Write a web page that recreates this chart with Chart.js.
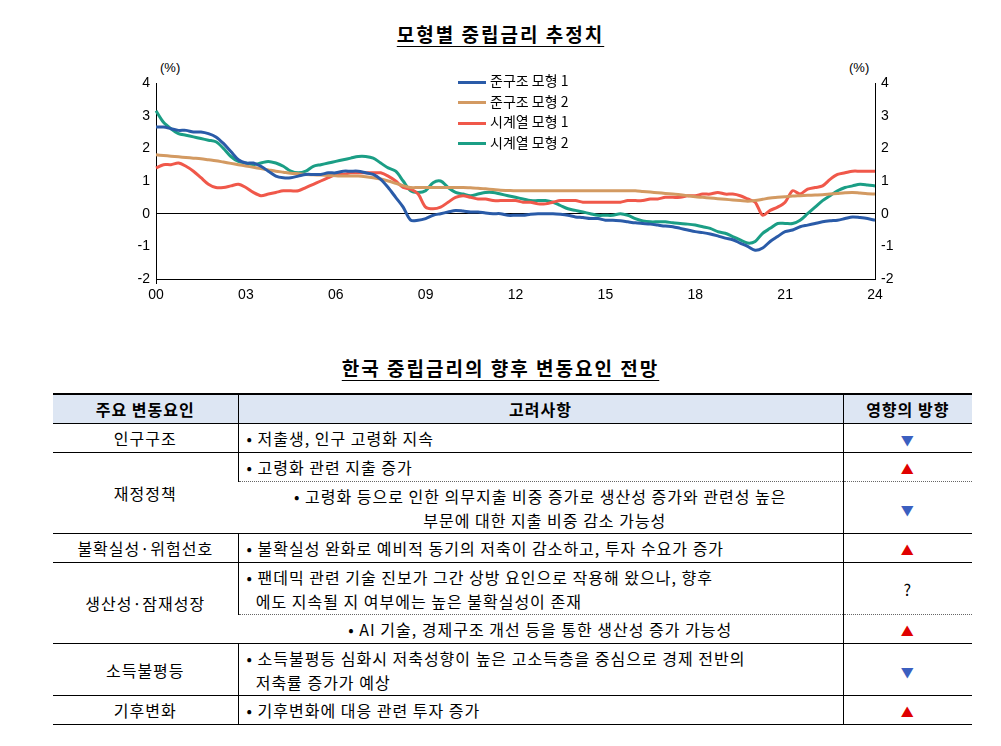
<!DOCTYPE html>
<html><head><meta charset="utf-8">
<script src="https://cdn.jsdelivr.net/npm/chart.js@4"></script>
<style>
body{margin:0;background:#fff;font-family:"Noto Sans CJK KR",sans-serif;color:#000;width:1001px;height:746px;position:relative;overflow:hidden}
.ttl{position:absolute;left:0;width:1001px;text-align:center;font-size:19px;font-weight:bold;text-decoration:underline;text-underline-offset:4px;letter-spacing:2px}
#wrap{position:absolute;left:110px;top:60px;width:810px;height:255px}
.pct{position:absolute;top:60px;font-family:"Liberation Sans";font-size:13px}
#leg{position:absolute;left:458px;top:70px;font-size:14px;line-height:20.5px}
#leg span{display:inline-block;width:28px;height:3px;vertical-align:middle;margin-right:4px}
table{position:absolute;left:53px;top:393px;width:919px;border-collapse:collapse;font-size:16px;table-layout:fixed;letter-spacing:1px}
td,th{padding:0 8px;border-bottom:1px solid #000;border-left:1px solid #000;white-space:nowrap}
th{background:#dde6f3;font-weight:bold;height:28px;border-top:2px solid #000;border-bottom:1px solid #000;text-align:center}
td:first-child,th:first-child{border-left:none;text-align:center}
td.d{text-align:center}
td.dot{border-bottom:1px dotted #666}
.u{color:#e00000;font-size:13px}.n{color:#3b5fc0;font-size:13px}
</style></head><body>
<div class="ttl" style="top:20px">모형별 중립금리 추정치</div>
<div class="pct" style="left:160px">(%)</div>
<div class="pct" style="left:849px">(%)</div>
<div id="wrap"><canvas id="c"></canvas></div>
<div id="leg"></div>
<div class="ttl" style="top:354px">한국 중립금리의 향후 변동요인 전망</div>
<table id="tb"></table>
<script>
// 분기별 (2000Q1 ~ 2024Q1)
const years = ["00","01","02","03","04","05","06","07","08","09","10","11","12","13","14","15","16","17","18","19","20","21","22","23","24"];
const quarters = [];
years.forEach((y, i) => { const n = i < years.length - 1 ? 4 : 1; for (let q = 0; q < n; q++) quarters.push(q === 0 ? y : ""); });

const struct1 = [2.65,2.65,2.6,2.55, 2.55,2.5,2.5,2.45, 2.35,2.15,1.9,1.65, 1.55,1.55,1.45,1.3, 1.15,1.1,1.1,1.15, 1.2,1.2,1.2,1.25, 1.25,1.3,1.3,1.3,
  1.25,1.2,1.05,0.8, 0.5,0.2,-0.2,-0.2, -0.15,-0.05,0.0,0.05, 0.1,0.08,0.05,0.05, 0.02,0.0,0.0,-0.05, -0.05,-0.05,-0.02,0.0, 0.0,0.0,-0.02,-0.05,
  -0.1,-0.12,-0.15,-0.15, -0.2,-0.2,-0.22,-0.25, -0.28,-0.3,-0.32,-0.35, -0.38,-0.4,-0.45,-0.5, -0.55,-0.58,-0.62,-0.68, -0.75,-0.8,-0.9,-1.0,
  -1.12,-1.05,-0.85,-0.7, -0.55,-0.5,-0.4,-0.35, -0.3,-0.25,-0.22,-0.2, -0.15,-0.1,-0.12,-0.15, -0.2];
const struct2 = [1.8,1.78,1.76,1.74, 1.72,1.7,1.68,1.65, 1.62,1.58,1.54,1.5, 1.46,1.42,1.38,1.34, 1.3,1.27,1.24,1.22, 1.2,1.19,1.18,1.17, 1.16,1.15,1.15,1.15,
  1.13,1.1,1.06,1.0, 0.93,0.86,0.8,0.8, 0.8,0.8,0.8,0.8, 0.8,0.8,0.79,0.78, 0.76,0.74,0.72,0.71, 0.7,0.7,0.7,0.7, 0.7,0.7,0.7,0.7,
  0.7,0.7,0.7,0.7, 0.7,0.7,0.7,0.7, 0.7,0.68,0.66,0.64, 0.62,0.6,0.58,0.55, 0.52,0.5,0.48,0.46, 0.44,0.42,0.4,0.38,
  0.4,0.44,0.48,0.5, 0.52,0.54,0.55,0.56, 0.57,0.58,0.6,0.62, 0.64,0.65,0.63,0.61, 0.6];
const series1 = [1.4,1.5,1.5,1.55, 1.45,1.3,1.1,0.9, 0.8,0.8,0.85,0.9, 0.8,0.65,0.55,0.6, 0.65,0.7,0.7,0.7, 0.8,0.9,1.0,1.1, 1.2,1.2,1.25,1.25,
  1.25,1.25,1.25,1.15, 1.0,0.8,0.75,0.6, 0.2,0.15,0.2,0.35, 0.5,0.55,0.5,0.45, 0.45,0.4,0.4,0.4, 0.4,0.35,0.35,0.3, 0.3,0.35,0.4,0.4,
  0.4,0.35,0.35,0.35, 0.35,0.35,0.35,0.4, 0.4,0.4,0.45,0.45, 0.5,0.5,0.5,0.55, 0.55,0.6,0.6,0.65, 0.6,0.6,0.55,0.45,
  0.35,-0.05,0.1,0.2, 0.35,0.7,0.6,0.75, 0.8,0.85,1.05,1.2, 1.25,1.3,1.3,1.3, 1.3];
const series2 = [3.15,2.8,2.6,2.45, 2.4,2.35,2.3,2.25, 2.2,2.0,1.75,1.6, 1.55,1.5,1.55,1.6, 1.55,1.45,1.3,1.25, 1.3,1.45,1.5,1.55, 1.6,1.65,1.7,1.75,
  1.75,1.7,1.55,1.4, 1.3,1.0,0.7,0.65, 0.7,0.95,1.0,0.8, 0.65,0.6,0.55,0.6, 0.65,0.65,0.6,0.55, 0.5,0.45,0.4,0.4, 0.4,0.35,0.25,0.15,
  0.1,0.05,0.0,-0.05, -0.05,-0.05,0.0,-0.05, -0.15,-0.22,-0.25,-0.25, -0.25,-0.28,-0.3,-0.32, -0.35,-0.4,-0.45,-0.55, -0.6,-0.7,-0.8,-0.9,
  -0.85,-0.6,-0.45,-0.3, -0.3,-0.3,-0.2,0.0, 0.2,0.4,0.55,0.7, 0.8,0.85,0.9,0.88, 0.85];

const names = ["준구조 모형 1","준구조 모형 2","시계열 모형 1","시계열 모형 2"];
const colors = ["#2a5ba8","#d39a62","#f0584a","#1b9e85"];
const yTicks = [4,3,2,1,0,-1,-2];

// 범례
document.getElementById("leg").innerHTML = names.map((n, i) => `<div><span style="background:${colors[i]}"></span>${n}</div>`).join("");

const tickFont = { family: "Liberation Sans", size: 14 };
const yAxis = (pos, w) => ({
  position: pos, min: -2, max: 4,
  afterBuildTicks: a => { a.ticks = yTicks.map(v => ({ value: v })); },
  afterFit: a => { a.width = w; },
  grid: { display: pos === "left", drawOnChartArea: pos === "left", drawTicks: false,
          color: c => c.tick && c.tick.value === 0 ? "#000" : "transparent" },
  border: { color: "#000" },
  ticks: { color: "#000", font: tickFont, padding: 6 }
});

new Chart(document.getElementById("c"), {
  type: "line",
  data: {
    labels: quarters,
    datasets: [struct1, struct2, series1, series2].map((d, i) => ({
      label: names[i], data: d, borderColor: colors[i], borderWidth: 3, pointRadius: 0, tension: 0.3, yAxisID: "y"
    }))
  },
  options: {
    responsive: true, maintainAspectRatio: false, animation: false,
    layout: { padding: { top: 23 } },
    plugins: { legend: { display: false }, tooltip: { enabled: false } },
    scales: {
      x: {
        afterFit: a => { a.height = 36; },
        grid: { drawOnChartArea: false, tickLength: 5, color: c => c.index % 12 === 0 ? "#000" : "transparent" },
        border: { color: "#000" },
        ticks: { color: "#000", font: tickFont, autoSkip: false, maxRotation: 0,
                 callback: (v, i) => i % 12 === 0 ? quarters[i] : null }
      },
      y: yAxis("left", 46),
      y2: yAxis("right", 45)
    }
  }
});

// 표
const rows = [
  ["인구구조", 1, "저출생, 인구 고령화 지속", "n", 1, ""],
  ["재정정책", 2, "고령화 관련 지출 증가", "u", 1, "dot"],
  [null, 0, "고령화 등으로 인한 의무지출 비중 증가로 생산성 증가와 관련성 높은<br>&nbsp;&nbsp;부문에 대한 지출 비중 감소 가능성", "n", 2, ""],
  ["불확실성·위험선호", 1, "불확실성 완화로 예비적 동기의 저축이 감소하고, 투자 수요가 증가", "u", 1, ""],
  ["생산성·잠재성장", 2, "팬데믹 관련 기술 진보가 그간 상방 요인으로 작용해 왔으나, 향후<br>&nbsp;&nbsp;에도 지속될 지 여부에는 높은 불확실성이 존재", "?", 2, "dot"],
  [null, 0, "AI 기술, 경제구조 개선 등을 통한 생산성 증가 가능성", "u", 1, ""],
  ["소득불평등", 1, "소득불평등 심화시 저축성향이 높은 고소득층을 중심으로 경제 전반의<br>&nbsp;&nbsp;저축률 증가가 예상", "n", 2, ""],
  ["기후변화", 1, "기후변화에 대응 관련 투자 증가", "u", 1, ""]
];
let html = "<colgroup><col style='width:185px'><col style='width:605px'><col style='width:129px'></colgroup>" +
  "<tr><th>주요 변동요인</th><th>고려사항</th><th>영향의 방향</th></tr>";
rows.forEach(r => {
  const h = r[4] === 2 ? 52 : 29;
  const mark = r[3] === "u" ? "<span class='u'>▲</span>" : r[3] === "n" ? "<span class='n'>▼</span>" : "?";
  html += `<tr style="height:${h}px">` + (r[0] ? `<td rowspan="${r[1]}">${r[0]}</td>` : "") +
    `<td class="${r[5]}" style="line-height:24px">• ${r[2]}</td><td class="d ${r[5]}">${mark}</td></tr>`;
});
document.getElementById("tb").innerHTML = html;
</script>
</body></html>
